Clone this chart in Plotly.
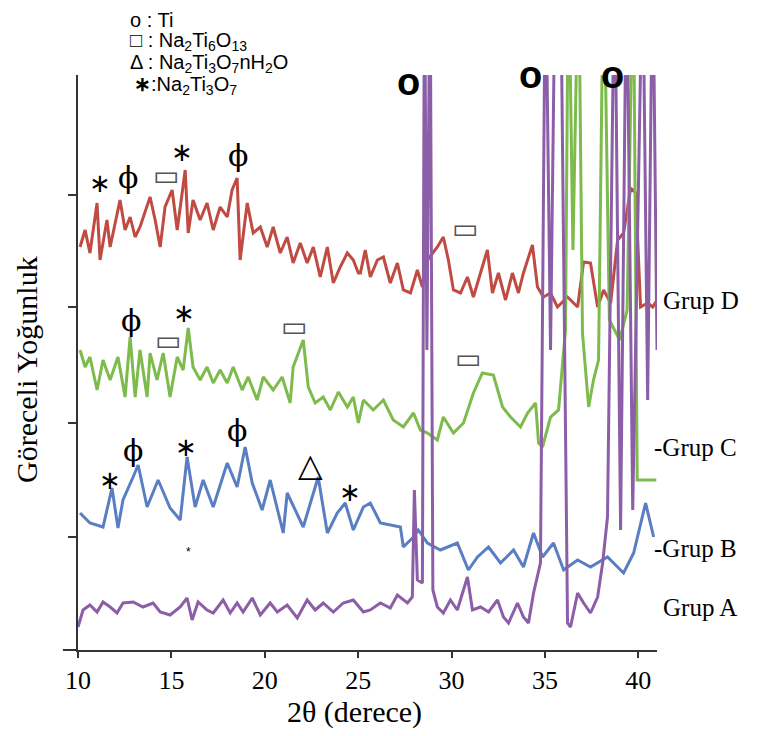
import plotly.graph_objects as go

# ---------------- data (2θ in degrees, relative intensity in a.u., groups stacked) -------------
grupD_x = [10.11,10.38,10.64,11.02,11.18,11.55,11.72,12.25,12.52,12.79,13.06,13.32,13.86,14.13,14.40,14.66,
           15.04,15.31,15.74,15.90,16.16,16.54,16.91,17.24,17.61,17.99,18.25,18.52,18.68,19.06,19.38,19.76,
           20.13,20.45,20.83,21.20,21.52,21.90,22.27,22.60,22.97,23.35,23.67,24.04,24.42,24.74,25.01,25.12,
           25.38,25.65,26.03,26.35,26.72,27.10,27.42,27.80,28.17,28.44,28.71,29.24,29.56,29.83,30.10,30.48,
           30.85,31.17,31.55,31.92,32.19,32.51,32.89,33.26,33.58,33.85,34.33,34.60,34.92,35.30,35.67,36.21,
           36.75,37.07,37.44,37.82,38.14,38.52,38.89,39.21,39.59,39.86,40.12,40.50,40.77,41.0]
grupD_y = [403,420,397,447,390,430,403,450,420,433,413,423,453,430,403,443,
           460,420,480,417,450,430,447,420,443,433,460,472,390,447,417,423,
           403,423,397,413,387,407,387,403,373,403,367,383,397,390,377,377,
           400,373,390,393,367,387,360,357,380,363,390,403,413,390,360,357,
           373,353,377,400,357,377,350,377,357,377,405,363,353,357,343,353,
           343,388,387,343,360,347,410,417,462,457,343,347,343,350]

grupC_x = [10.11,10.38,10.64,11.02,11.34,11.72,12.14,12.52,12.79,13.06,13.32,13.70,13.86,14.23,14.56,14.93,
           15.31,15.63,15.90,16.16,16.54,16.91,17.24,17.61,17.99,18.31,18.79,19.11,19.59,19.92,20.45,20.93,
           21.36,21.52,22.06,22.33,22.70,23.13,23.51,23.94,24.42,24.74,25.01,25.28,25.81,26.35,26.88,27.42,
           27.96,28.33,28.71,29.24,29.56,30.10,30.64,31.17,31.65,32.24,32.73,33.16,33.69,34.07,34.50,34.66,
           34.87,35.30,35.73,36.10,36.26,36.50,36.80,37.01,37.34,37.60,37.87,38.14,38.45,39.00,39.40,39.73,
           39.94,40.96]
grupC_y = [300,283,293,260,290,270,293,253,313,253,300,253,297,270,297,253,
           293,280,322,283,270,283,267,280,267,283,260,273,250,273,260,273,
           247,283,310,263,247,253,240,258,243,253,227,250,240,250,230,223,
           237,220,217,210,233,217,227,257,277,275,243,233,223,237,247,207,
           203,233,240,320,700,400,700,317,243,270,290,700,330,310,340,700,
           170,170]

grupB_x = [10.11,10.64,11.34,11.82,12.14,12.41,12.95,13.22,13.70,14.29,14.93,15.47,15.84,16.27,16.70,17.24,
           17.99,18.52,18.95,19.33,19.86,20.29,20.99,21.20,22.06,22.86,23.35,23.88,24.31,24.74,25.28,25.65,
           26.19,27.26,27.42,27.96,28.22,28.71,29.40,30.31,30.90,31.39,31.98,32.62,33.32,33.85,34.39,34.87,
           35.46,36.00,36.75,37.44,38.35,39.21,39.75,40.39,40.82]
grupB_y = [137,127,123,162,122,150,173,185,143,170,142,130,193,143,170,143,
           187,163,203,167,140,170,117,157,123,173,117,137,147,120,143,147,
           127,123,103,113,120,107,100,107,80,93,103,87,100,83,117,93,
           107,80,90,83,93,77,97,147,113]

grupA_x = [10.00,10.27,10.64,11.02,11.34,11.72,12.09,12.41,12.95,13.48,14.02,14.40,14.93,15.47,15.84,16.11,
           16.43,16.91,17.24,17.77,18.15,18.52,18.84,19.33,19.76,20.29,20.67,21.20,21.74,22.27,22.70,23.13,
           23.67,24.20,24.74,25.28,25.65,26.19,26.72,27.10,27.64,27.90,28.01,28.17,28.44,28.55,28.68,28.85,
           29.00,29.24,29.56,29.94,30.31,30.85,31.12,31.55,31.98,32.46,32.78,33.05,33.53,33.85,34.12,34.39,
           34.76,35.03,35.30,35.56,35.83,36.21,36.37,36.75,37.07,37.44,37.82,38.09,38.35,38.73,39.05,39.37,
           39.70,40.23,40.50,40.77,41.00]
grupA_y = [23,40,45,38,48,43,37,47,48,43,47,38,35,43,52,30,
           48,40,37,50,37,47,38,52,35,47,38,45,32,50,40,47,
           38,47,50,38,40,47,42,55,47,53,160,70,67,700,300,700,
           60,43,37,50,40,73,40,43,38,50,33,27,47,33,27,57,
           87,700,300,700,700,27,23,57,47,37,53,87,133,700,120,700,
           140,700,250,700,300]

x_ticks = [10, 15, 20, 25, 30, 35, 40]
y_ticks = [113, 227, 343, 455]

# peak markers: (x, y)
phi_marks = [(12.68, 473), (18.58, 495), (12.84, 330), (12.95, 200), (18.52, 220)]
star_marks = [(11.18, 467), (15.58, 498), (15.68, 337), (11.72, 170), (15.79, 203), (24.58, 158)]
rect_marks = [(14.72, 475), (30.74, 422), (14.82, 310), (21.58, 324), (30.90, 292)]
tri_marks = [(22.44, 185)]
ti_marks = [(27.69, 568), (34.23, 575), (38.62, 575)]

group_labels = [("Grup D", 350), ("-Grup C", 203), ("-Grup B", 102), ("Grup A", 43)]

COL_D = "#bf4b42"
COL_C = "#7dbb4c"
COL_B = "#5a7ec2"
COL_A = "#8c5ea8"

fig = go.Figure()
for xs, ys, col in [(grupD_x, grupD_y, COL_D), (grupC_x, grupC_y, COL_C),
                    (grupB_x, grupB_y, COL_B), (grupA_x, grupA_y, COL_A)]:
    fig.add_trace(go.Scatter(x=xs, y=ys, mode="lines",
                             line=dict(color=col, width=3), showlegend=False,
                             hoverinfo="skip"))

ann = []
for x, y in phi_marks:
    ann.append(dict(x=x, y=y, text="ϕ", font=dict(family="DejaVu Serif", size=30, color="black")))
for x, y in star_marks:
    ann.append(dict(x=x, y=y, text="∗", font=dict(family="DejaVu Sans", size=26, color="black")))
for x, y in rect_marks:
    ann.append(dict(x=x, y=y, text="▭", font=dict(family="DejaVu Sans", size=28, color="#555555")))
for x, y in tri_marks:
    ann.append(dict(x=x, y=y, text="△", font=dict(family="DejaVu Sans", size=32, color="black")))
for x, y in ti_marks:
    ann.append(dict(x=x, y=y, text="<b>o</b>", font=dict(family="Liberation Sans", size=38, color="black")))
ann.append(dict(x=15.90, y=98, text="*", font=dict(family="Liberation Sans", size=12, color="black")))
for a in ann:
    a.update(xref="x", yref="y", showarrow=False, xanchor="center", yanchor="middle")

leg_font = dict(family="Liberation Sans", size=20, color="black")
legend_lines = [
    ("o : Ti", 0.086, 1.096),
    ("□ : Na<sub>2</sub>Ti<sub>6</sub>O<sub>13</sub>", 0.086, 1.058),
    ("Δ : Na<sub>2</sub>Ti<sub>3</sub>O<sub>7</sub>nH<sub>2</sub>O", 0.086, 1.020),
    ("<b>∗</b>:Na<sub>2</sub>Ti<sub>3</sub>O<sub>7</sub>", 0.094, 0.982),
]
for txt, x, y in legend_lines:
    ann.append(dict(x=x, y=y, xref="paper", yref="paper", text=txt, showarrow=False,
                    xanchor="left", yanchor="middle", font=leg_font))

for txt, y in group_labels:
    ann.append(dict(x=0.992 if txt.startswith("-") else 1.007, y=y, xref="paper", yref="y", text=txt,
                    showarrow=False, xanchor="left", yanchor="middle",
                    font=dict(family="Liberation Serif", size=25, color="black")))

ann.append(dict(x=0.478, y=-0.108, xref="paper", yref="paper", text="2θ (derece)", showarrow=False,
                xanchor="center", yanchor="middle",
                font=dict(family="Liberation Serif", size=30, color="black")))
ann.append(dict(x=-0.088, y=0.487, xref="paper", yref="paper", text="Göreceli Yoğunluk", showarrow=False,
                textangle=-90, xanchor="center", yanchor="middle",
                font=dict(family="Liberation Serif", size=30, color="black")))

fig.update_layout(
    width=767, height=728,
    margin=dict(l=70, r=118, t=67, b=86),
    paper_bgcolor="white", plot_bgcolor="white",
    annotations=ann,
    shapes=[dict(type="line", xref="paper", yref="paper", x0=-0.026, x1=0, y0=0, y1=0,
                 line=dict(color="#333333", width=2))],
    xaxis=dict(range=[10, 41.0], tickvals=x_ticks, ticktext=[str(v) for v in x_ticks],
               showgrid=False, zeroline=False, showline=True, linecolor="#333333", linewidth=2,
               ticks="outside", ticklen=6, tickwidth=2, tickcolor="#333333",
               tickfont=dict(family="Liberation Serif", size=26, color="black")),
    yaxis=dict(range=[0, 575], tickvals=y_ticks, showticklabels=False,
               showgrid=False, zeroline=False, showline=True, linecolor="#333333", linewidth=2,
               ticks="outside", ticklen=8, tickwidth=2, tickcolor="#333333"),
)

fig.write_html("out.html")
